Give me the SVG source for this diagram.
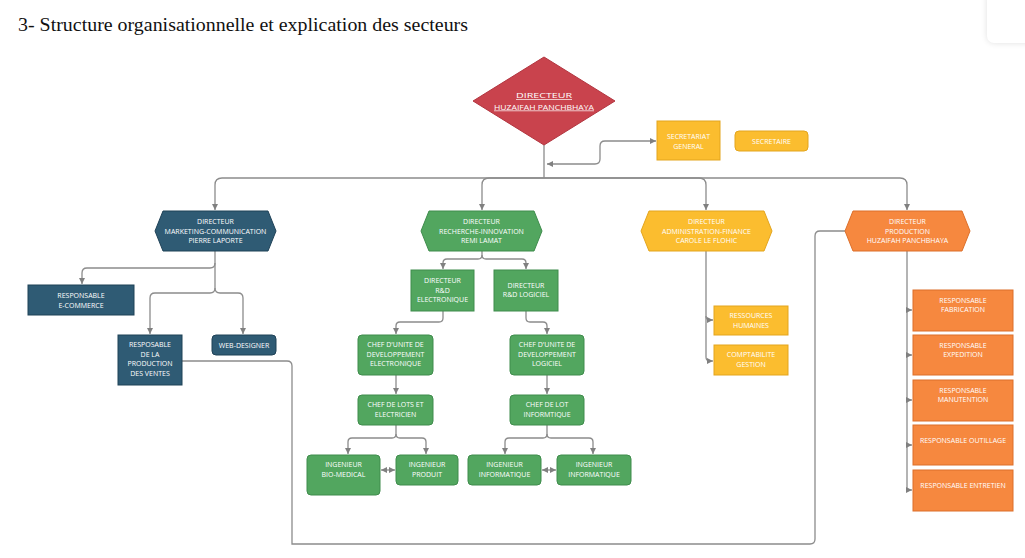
<svg xmlns="http://www.w3.org/2000/svg" width="1025" height="558" viewBox="0 0 1025 558">
<style>
.t{font-family:"Open Sans","DejaVu Sans",sans-serif;font-size:7px;fill:#ffffff;text-anchor:middle}
.c{fill:none;stroke:#8c8c8c;stroke-width:1.3}
.navy{fill:#2f5b74;stroke:#1f4257;stroke-width:1}
.green{fill:#52a65f;stroke:#3f8c4c;stroke-width:1}
.yellow{fill:#fbbd2f;stroke:#e3a51f;stroke-width:1}
.orange{fill:#f6883f;stroke:#dc6f2a;stroke-width:1}
</style>
<defs>
<marker id="a" viewBox="0 0 8 8" refX="8" refY="4" markerWidth="6" markerHeight="6" markerUnits="userSpaceOnUse" orient="auto-start-reverse">
<path d="M0,0 L8,4 L0,8 z" fill="#808080"/>
</marker>
<filter id="sh" x="-50%" y="-50%" width="200%" height="200%">
<feGaussianBlur stdDeviation="3"/>
</filter>
</defs>
<rect width="1025" height="558" fill="#ffffff"/>
<rect x="987" y="-10" width="50" height="53" rx="7" fill="#000" opacity="0.12" filter="url(#sh)"/>
<rect x="987" y="-10" width="50" height="53" rx="7" fill="#ffffff"/>
<text x="18" y="31" font-family="Liberation Serif,serif" font-size="18" fill="#111" textLength="450" lengthAdjust="spacingAndGlyphs">3- Structure organisationnelle et explication des secteurs</text>

<g id="connectors">
<path class="c" d="M544,145 V178"/>
<path class="c" marker-end="url(#a)" d="M544,178 H222 Q215,178 215,185 V210"/>
<path class="c" marker-end="url(#a)" d="M544,178 H489 Q482,178 482,185 V210"/>
<path class="c" marker-end="url(#a)" d="M544,178 H699 Q706,178 706,185 V210"/>
<path class="c" marker-end="url(#a)" d="M544,178 H900 Q907,178 907,185 V210"/>
<path class="c" marker-start="url(#a)" marker-end="url(#a)" d="M547,164 H595 Q600,164 600,159 V146 Q600,141 605,141 H656"/>
<path class="c" marker-end="url(#a)" d="M215,251 V263 Q215,268 210,268 H87 Q82,268 82,273 V284"/>
<path class="c" marker-end="url(#a)" d="M215,263 V288 Q215,293 210,293 H155 Q150,293 150,298 V334"/>
<path class="c" marker-end="url(#a)" d="M215,288 Q215,293 220,293 H238 Q243,293 243,298 V334"/>
<path class="c" d="M182,361 H287 Q292,361 292,366 V544 H810 Q815,544 815,539 V236 Q815,231 820,231 H845"/>
<path class="c" marker-end="url(#a)" d="M482,251 V255 Q482,259 478,259 H447 Q443,259 443,263 V269"/>
<path class="c" marker-end="url(#a)" d="M482,255 Q482,259 486,259 H522 Q526,259 526,263 V269"/>
<path class="c" marker-end="url(#a)" d="M443,311 V318 Q443,322 439,322 H400 Q396,322 396,326 V334"/>
<path class="c" marker-end="url(#a)" d="M526,311 V318 Q526,322 530,322 H543 Q547,322 547,326 V334"/>
<path class="c" marker-end="url(#a)" d="M396,375 V394"/>
<path class="c" marker-end="url(#a)" d="M547,375 V394"/>
<path class="c" marker-end="url(#a)" d="M396,425 V434 Q396,438 392,438 H352 Q348,438 348,442 V454"/>
<path class="c" marker-end="url(#a)" d="M396,434 Q396,438 400,438 H422 Q426,438 426,442 V454"/>
<path class="c" marker-end="url(#a)" d="M547,425 V434 Q547,438 543,438 H509 Q505,438 505,442 V454"/>
<path class="c" marker-end="url(#a)" d="M547,434 Q547,438 551,438 H589 Q593,438 593,442 V454"/>
<path class="c" marker-start="url(#a)" marker-end="url(#a)" d="M381,470 H395"/>
<path class="c" marker-start="url(#a)" marker-end="url(#a)" d="M542,470 H556"/>
<path class="c" d="M706,251 V357 Q706,361 710,361"/>
<path class="c" marker-end="url(#a)" d="M706,316 Q706,320 710,320 H713"/>
<path class="c" marker-end="url(#a)" d="M710,361 H713"/>
<path class="c" d="M907,251 V490"/>
<path class="c" marker-end="url(#a)" d="M907,310 H912"/>
<path class="c" marker-end="url(#a)" d="M907,355 H912"/>
<path class="c" marker-end="url(#a)" d="M907,400 H912"/>
<path class="c" marker-end="url(#a)" d="M907,445 H912"/>
<path class="c" marker-end="url(#a)" d="M907,490 H912"/>
</g>

<g id="directeur">
<polygon points="544,57 615,101 544,145 473,101" fill="#c9434d" stroke="#b23640" stroke-width="1"/>
<text class="t" x="544" y="98" font-size="9" textLength="56" lengthAdjust="spacingAndGlyphs" text-decoration="underline">DIRECTEUR</text>
<text class="t" x="544" y="109.5" font-size="9" textLength="100" lengthAdjust="spacingAndGlyphs" text-decoration="underline">HUZAIFAH PANCHBHAYA</text>
</g>
<g id="secretariat">
<rect class="yellow" x="657" y="121" width="63" height="39"/>
<text class="t" x="688.5" y="139">SECRETARIAT</text>
<text class="t" x="688.5" y="148.5">GENERAL</text>
</g>
<g id="secretaire">
<rect class="yellow" x="735" y="131" width="73" height="20" rx="4"/>
<text class="t" x="771.5" y="143.5">SECRETAIRE</text>
</g>

<g id="dir-marketing">
<polygon class="navy" points="163,211 268,211 276,231 268,251 163,251 155,231"/>
<text class="t" x="215.5" y="224">DIRECTEUR</text>
<text class="t" x="215.5" y="233.5">MARKETING-COMMUNICATION</text>
<text class="t" x="215.5" y="243">PIERRE LAPORTE</text>
</g>
<g id="resp-ecommerce">
<rect class="navy" x="28" y="285" width="106" height="30"/>
<text class="t" x="81" y="298">RESPONSABLE</text>
<text class="t" x="81" y="307.5">E-COMMERCE</text>
</g>
<g id="resp-production-ventes">
<rect class="navy" x="118" y="335" width="64" height="50"/>
<text class="t" x="150" y="347">RESPOSABLE</text>
<text class="t" x="150" y="356.5">DE LA</text>
<text class="t" x="150" y="366">PRODUCTION</text>
<text class="t" x="150" y="375.5">DES VENTES</text>
</g>
<g id="web-designer">
<rect class="navy" x="212" y="335" width="64" height="20" rx="4"/>
<text class="t" x="244" y="347.5">WEB-DESIGNER</text>
</g>

<g id="dir-rd">
<polygon class="green" points="429,211 534,211 542,231 534,251 429,251 421,231"/>
<text class="t" x="481.5" y="224">DIRECTEUR</text>
<text class="t" x="481.5" y="233.5">RECHERCHE-INNOVATION</text>
<text class="t" x="481.5" y="243">REMI LAMAT</text>
</g>
<g id="dir-rd-electronique">
<rect class="green" x="411" y="270" width="63" height="41"/>
<text class="t" x="442.5" y="283">DIRECTEUR</text>
<text class="t" x="442.5" y="292.5">R&amp;D</text>
<text class="t" x="442.5" y="302">ELECTRONIQUE</text>
</g>
<g id="dir-rd-logiciel">
<rect class="green" x="494" y="270" width="64" height="41"/>
<text class="t" x="526" y="287.5">DIRECTEUR</text>
<text class="t" x="526" y="297">R&amp;D LOGICIEL</text>
</g>
<g id="chef-unite-electronique">
<rect class="green" x="358" y="335" width="75" height="40" rx="4"/>
<text class="t" x="395.5" y="347">CHEF D'UNITE DE</text>
<text class="t" x="395.5" y="356.5">DEVELOPPEMENT</text>
<text class="t" x="395.5" y="366">ELECTRONIQUE</text>
</g>
<g id="chef-unite-logiciel">
<rect class="green" x="510" y="335" width="74" height="40" rx="4"/>
<text class="t" x="547" y="347">CHEF D'UNITE DE</text>
<text class="t" x="547" y="356.5">DEVELOPPEMENT</text>
<text class="t" x="547" y="366">LOGICIEL</text>
</g>
<g id="chef-lots-electricien">
<rect class="green" x="358" y="395" width="75" height="30" rx="4"/>
<text class="t" x="395.5" y="407">CHEF DE LOTS ET</text>
<text class="t" x="395.5" y="416.5">ELECTRICIEN</text>
</g>
<g id="chef-lot-informatique">
<rect class="green" x="510" y="395" width="74" height="30" rx="4"/>
<text class="t" x="547" y="407">CHEF DE LOT</text>
<text class="t" x="547" y="416.5">INFORMTIQUE</text>
</g>
<g id="ing-bio-medical">
<rect class="green" x="307" y="455" width="73" height="40" rx="4"/>
<text class="t" x="343.5" y="467">INGENIEUR</text>
<text class="t" x="343.5" y="476.5">BIO-MEDICAL</text>
</g>
<g id="ing-produit">
<rect class="green" x="396" y="455" width="62" height="30" rx="4"/>
<text class="t" x="427" y="467">INGENIEUR</text>
<text class="t" x="427" y="476.5">PRODUIT</text>
</g>
<g id="ing-informatique-1">
<rect class="green" x="468" y="455" width="73" height="30" rx="4"/>
<text class="t" x="504.5" y="467">INGENIEUR</text>
<text class="t" x="504.5" y="476.5">INFORMATIQUE</text>
</g>
<g id="ing-informatique-2">
<rect class="green" x="557" y="455" width="74" height="30" rx="4"/>
<text class="t" x="594" y="467">INGENIEUR</text>
<text class="t" x="594" y="476.5">INFORMATIQUE</text>
</g>

<g id="dir-admin">
<polygon class="yellow" points="649,211 764,211 772,231 764,251 649,251 641,231"/>
<text class="t" x="706.5" y="224">DIRECTEUR</text>
<text class="t" x="706.5" y="233.5">ADMINISTRATION-FINANCE</text>
<text class="t" x="706.5" y="243">CAROLE LE FLOHIC</text>
</g>
<g id="ressources-humaines">
<rect class="yellow" x="714" y="306" width="74" height="29"/>
<text class="t" x="751" y="318">RESSOURCES</text>
<text class="t" x="751" y="327.5">HUMAINES</text>
</g>
<g id="comptabilite">
<rect class="yellow" x="714" y="345" width="74" height="30"/>
<text class="t" x="751" y="357">COMPTABILITE</text>
<text class="t" x="751" y="366.5">GESTION</text>
</g>

<g id="dir-production">
<polygon class="orange" points="853,211 962,211 970,231 962,251 853,251 845,231"/>
<text class="t" x="907.5" y="224">DIRECTEUR</text>
<text class="t" x="907.5" y="233.5">PRODUCTION</text>
<text class="t" x="907.5" y="243">HUZAIFAH PANCHBHAYA</text>
</g>
<g id="resp-fabrication">
<rect class="orange" x="913" y="290" width="100" height="41"/>
<text class="t" x="963" y="303">RESPONSABLE</text>
<text class="t" x="963" y="312">FABRICATION</text>
</g>
<g id="resp-expedition">
<rect class="orange" x="913" y="335" width="100" height="40"/>
<text class="t" x="963" y="348">RESPONSABLE</text>
<text class="t" x="963" y="357">EXPEDITION</text>
</g>
<g id="resp-manutention">
<rect class="orange" x="913" y="380" width="100" height="41"/>
<text class="t" x="963" y="393">RESPONSABLE</text>
<text class="t" x="963" y="402">MANUTENTION</text>
</g>
<g id="resp-outillage">
<rect class="orange" x="913" y="425" width="100" height="40"/>
<text class="t" x="963" y="443">RESPONSABLE OUTILLAGE</text>
</g>
<g id="resp-entretien">
<rect class="orange" x="913" y="470" width="100" height="41"/>
<text class="t" x="963" y="488">RESPONSABLE ENTRETIEN</text>
</g>
</svg>
